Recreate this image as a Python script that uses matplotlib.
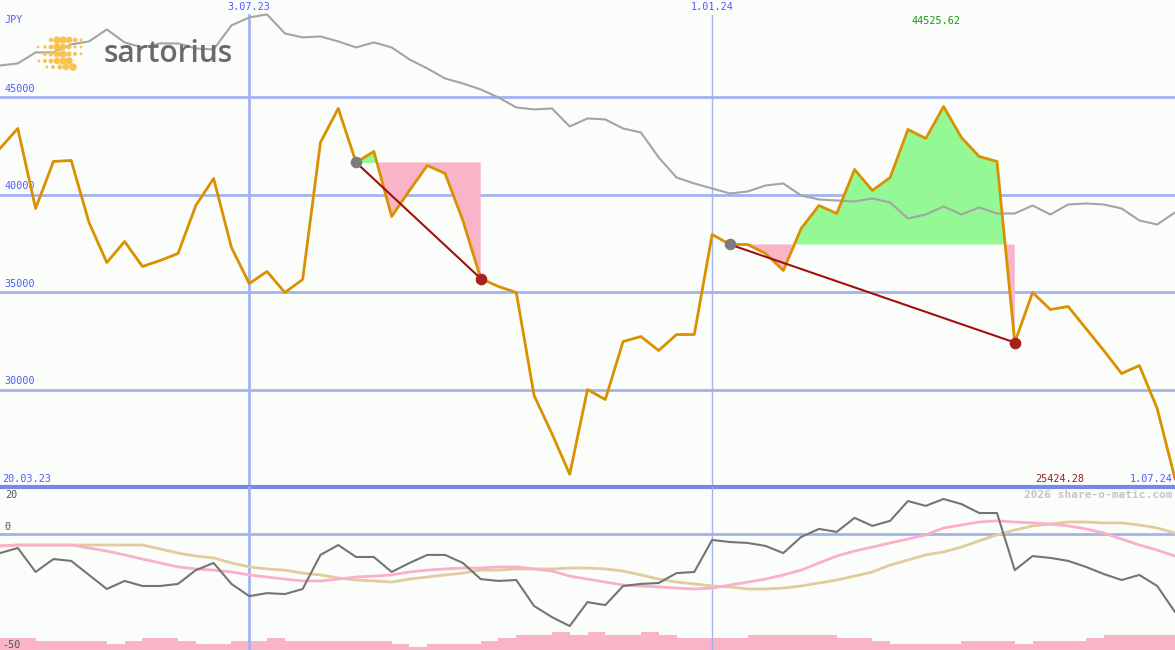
import numpy as np
import matplotlib
matplotlib.use("Agg")
import matplotlib.pyplot as plt
import matplotlib.transforms as mtransforms

# ── data (weekly closes, JPY) ──
price = [42372, 43399, 39292, 41705, 41756, 38573, 36520, 37598, 36315, 36623,
         36982, 39446, 40832, 37290, 35442, 36058, 34980, 35648, 42680, 44425,
         41653, 42218, 38881, 40216, 41499, 41089, 38676, 35699, 35288, 34980,
         29693, 27743, 25650, 30001, 29488, 32465, 32722, 32003, 32824, 32824,
         37957, 37444, 37444, 36982, 36110, 38265, 39446, 39035, 41294, 40216,
         40883, 43347, 42885, 44525.62, 42937, 41961, 41705, 32414, 34980, 34108,
         34262, 33132, 32003, 30823, 31233, 29026, 25424.28]

benchmark = [46632, 46735, 47300, 47300, 47710, 47864, 48480, 47813, 47556, 47762,
             47762, 47505, 47454, 48686, 49096, 49250, 48275, 48070, 48121, 47864,
             47556, 47813, 47556, 46940, 46478, 45965, 45708, 45400, 44990, 44477,
             44374, 44426, 43502, 43913, 43861, 43399, 43193, 41910, 40883, 40575,
             40319, 40062, 40165, 40473, 40575, 39959, 39754, 39703, 39652, 39806,
             39600, 38779, 38984, 39394, 38984, 39343, 39035, 39035, 39446, 38984,
             39497, 39548, 39497, 39292, 38676, 38471, 39087]

momentum = [-8.3, -6.1, -16.5, -10.9, -11.7, -17.8, -23.9, -20.4, -22.6, -22.6,
            -21.7, -15.7, -12.6, -21.7, -27.0, -25.7, -26.1, -23.9, -9.1, -4.8,
            -10.0, -10.0, -16.5, -12.6, -9.1, -9.1, -12.6, -19.6, -20.4, -20.0,
            -31.3, -36.1, -40.0, -29.6, -30.9, -22.6, -21.7, -21.3, -17.0, -16.5,
            -2.6, -3.5, -3.9, -5.2, -8.3, -1.3, 2.2, 0.9, 7.0, 3.5,
            5.7, 14.3, 12.2, 15.2, 13.0, 9.1, 9.1, -15.7, -9.6, -10.4,
            -11.7, -14.3, -17.4, -20.0, -17.8, -22.6, -33.9]

avg_fast = [-5.2, -4.8, -4.8, -4.8, -4.8, -6.1, -7.4, -9.1, -10.9, -12.6,
            -14.3, -15.2, -15.7, -16.5, -17.8, -18.7, -19.6, -20.4, -20.4, -19.6,
            -18.7, -18.3, -17.8, -16.5, -15.7, -15.2, -14.8, -14.8, -14.3, -14.3,
            -15.2, -16.1, -18.3, -19.6, -20.9, -22.2, -22.6, -23.0, -23.5, -23.9,
            -23.5, -22.2, -20.9, -19.6, -17.8, -15.7, -12.6, -9.6, -7.4, -5.7,
            -3.9, -2.2, -0.4, 2.6, 3.9, 5.2, 5.7, 5.2, 4.8, 4.3,
            3.5, 2.2, 0.4, -2.2, -4.8, -7.0, -9.6]

avg_slow = [-5.2, -4.8, -4.8, -4.8, -4.8, -4.8, -4.8, -4.8, -4.8, -6.5,
            -8.3, -9.6, -10.4, -12.6, -14.3, -15.2, -15.7, -17.0, -17.8, -19.1,
            -20.0, -20.4, -20.9, -19.6, -18.7, -17.8, -17.0, -15.7, -15.7, -15.2,
            -15.2, -15.2, -14.8, -14.8, -15.2, -16.1, -17.8, -19.6, -20.9, -21.7,
            -22.6, -23.0, -23.9, -23.9, -23.5, -22.6, -21.3, -20.0, -18.3, -16.5,
            -13.5, -11.3, -9.1, -7.8, -5.7, -3.0, -0.4, 1.7, 3.5, 4.3,
            5.2, 5.2, 4.8, 4.8, 3.9, 2.6, 0.4]

# volume level per week (bar between week i and i+1)
volume = [4, 4, 3, 3, 3, 3, 2, 3, 4, 4, 3, 2, 2, 3, 3, 4, 3, 3, 3, 3, 3, 3,
          2, 1, 2, 2, 2, 3, 4, 5, 5, 6, 5, 6, 5, 5, 6, 5, 4, 4, 4, 4,
          5, 5, 5, 5, 5, 4, 4, 3, 2, 2, 2, 2, 3, 3, 3, 2, 3, 3, 3, 4,
          5, 5, 5, 5]

trades = [(20, 27), (41, 57)]   # (entry week, exit week)
hlevels = [30000, 35000, 40000, 45000]
date_marks = [(14, "3.07.23", 2.0), (40, "1.01.24", 1.0)]
first_date, last_date = "20.03.23", "1.07.24"

# ── style ──
BG = "#fbfdfb"
GRID = "#a4b2f0"
LBL = "#4a5cff"
W, H = 1175, 650
x = np.arange(len(price))
price_a = np.array(price)

fig = plt.figure(figsize=(W / 100, H / 100), dpi=100, facecolor=BG)
top_h = 487 / H
ax = fig.add_axes([0, 1 - top_h, 1, top_h], facecolor=BG)
ax2 = fig.add_axes([0, 0, 1, 1 - top_h], facecolor=BG)
for a in (ax, ax2):
    a.set_xlim(0, len(price) - 1)
    a.axis("off")
ax.set_ylim(25000, 49990)
ax2.set_ylim(-50.4, 20.4)

mono = dict(family="DejaVu Sans Mono", fontsize=7.3)
tr = mtransforms.blended_transform_factory(ax.transAxes, ax.transData)
tr2 = mtransforms.blended_transform_factory(ax2.transAxes, ax2.transData)

# grid
for lv in hlevels:
    ax.axhline(lv, color=GRID, lw=2, zorder=1)
    ax.text(0.004, lv + 180, str(lv), color=LBL, va="bottom", ha="left", transform=tr, **mono)
ax.axhline(25000, color="#7888ea", lw=3, zorder=6, clip_on=False)
for xi, lbl, lw in date_marks:
    ax.axvline(xi, color=GRID, lw=lw, ymax=0.97, zorder=1)
    ax2.axvline(xi, color=GRID, lw=lw, zorder=1)
    ax.text(xi, 0.985, lbl, color=LBL, ha="center", va="center",
            transform=mtransforms.blended_transform_factory(ax.transData, ax.transAxes), **mono)

ax.text(0.004, 0.958, "JPY", color=LBL, ha="left", va="center", transform=ax.transAxes, **mono)
ax.text(0.002, 25150, first_date, color=LBL, ha="left", va="bottom", transform=tr, **mono)
ax.text(0.998, 25150, last_date, color=LBL, ha="right", va="bottom", transform=tr, **mono)

imax = int(np.argmax(price_a))
imin = int(np.argmin(price_a))
ax.text(imax - 0.45, 0.957, f"{price[imax]:.2f}", color="#109a10", ha="center", va="center",
        transform=mtransforms.blended_transform_factory(ax.transData, ax.transAxes), **mono)
ax.text(imin - 6.5, 25150, f"{price[imin]:.2f}", color="#a01c1c", ha="center", va="bottom", **mono)

# trades: fills relative to entry level
for e, s in trades:
    seg = x[e:s + 1]
    p = price_a[e:s + 1]
    lvl = price[e]
    ax.fill_between(seg, p, lvl, where=p >= lvl, interpolate=True, color="#94f894", lw=0, zorder=2)
    ax.fill_between(seg, p, lvl, where=p <= lvl, interpolate=True, color="#f9b4c8", lw=0, zorder=2)

ax.plot(x, benchmark, color="#a4a4a4", lw=1.5, zorder=3)
ax.plot(x, price, color="#d99100", lw=2, zorder=4)

for e, s in trades:
    ax.plot([e, s], [price[e], price[s]], color="#a01010", lw=1.5, zorder=5)
    ax.scatter([e], [price[e]], s=70, color="#7c7c7c", zorder=6, lw=0)
    ax.scatter([s], [price[s]], s=70, color="#a82020", zorder=6, lw=0)

# ── lower panel ──
axv = ax2.twinx()
axv.set_ylim(0, 163 / 3)
axv.axis("off")
axv.bar(x[:-1] + 0.5, volume, width=1.0, color="#f9b4c8", lw=0, zorder=1)

ax2.axhline(0, color=GRID, lw=2, zorder=1)
ax2.plot(x, avg_slow, color="#e2cc9c", lw=2, zorder=3)
ax2.plot(x, avg_fast, color="#f9b0c8", lw=2, zorder=3)
ax2.plot(x, momentum, color="#747474", lw=1.5, zorder=4)
ax2.set_zorder(axv.get_zorder() + 1)
ax2.patch.set_visible(False)

gray_lbl = dict(color="#555555", ha="left", **mono)
ax2.text(0.004, 19.0, "20", va="top", transform=tr2, **gray_lbl)
ax2.text(0.004, 0.8, "0", va="bottom", transform=tr2, **gray_lbl)
ax2.text(0.002, -50.2, "-50", va="bottom", transform=tr2, **gray_lbl)
ax2.text(0.998, 19.0, "2026 share-o-matic.com", color="#c4c4c4", ha="right", va="top",
         transform=tr2, family="DejaVu Sans Mono", fontsize=8, fontweight="bold")

# ── logo overlay ──
ov = fig.add_axes([0, 0, 1, 1], facecolor="none")
ov.set_xlim(0, W)
ov.set_ylim(H, 0)
ov.axis("off")
dot_rows = [
    (40, [(51, 10), (57, 28), (63, 28), (69, 22), (75, 12), (81, 5)]),
    (47, [(38, 4), (45, 6), (51, 12), (57, 30), (63, 22), (69, 12), (75, 5), (81, 4)]),
    (54, [(45, 8), (51, 12), (57, 22), (63, 28), (69, 14), (75, 8), (81, 4)]),
    (61, [(39, 4), (45, 8), (51, 12), (57, 22), (63, 28), (69, 30)]),
    (67, [(47, 4), (53, 8), (60, 14), (66, 22), (73, 30)]),
]
for yy, dots in dot_rows:
    ov.scatter([d[0] for d in dots], [yy] * len(dots), s=[d[1] for d in dots],
               color="#f8c254", lw=0, zorder=7)
ov.text(104, 62, "sartorius", color="#6a6a6a", fontsize=21.5, fontweight="semibold",
        ha="left", va="baseline", family="Open Sans", zorder=7)

fig.savefig("out.png", dpi=100, facecolor=BG)
